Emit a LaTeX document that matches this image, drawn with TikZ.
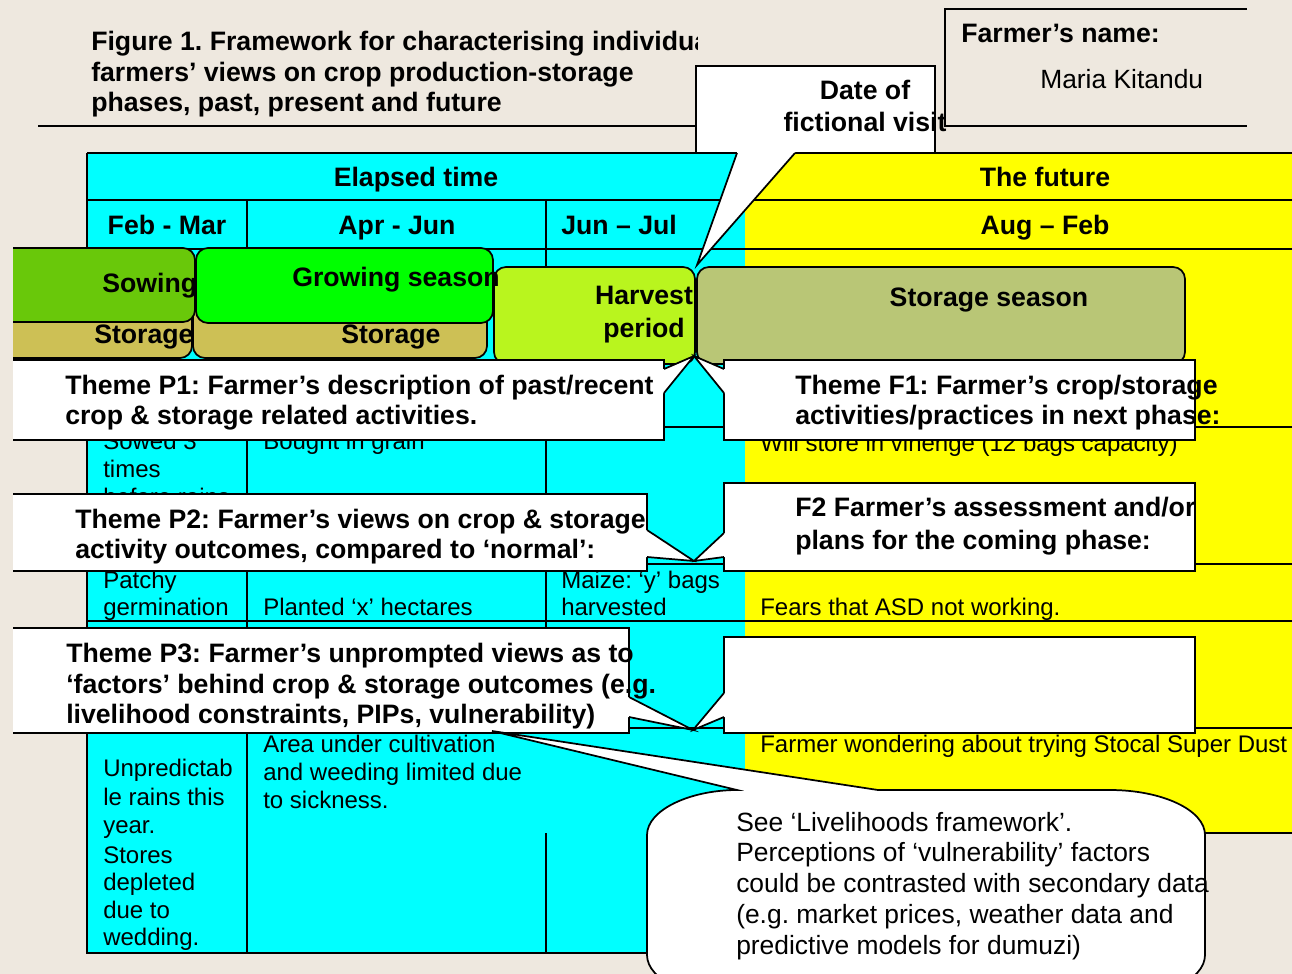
\documentclass[tikz,border=0pt]{standalone}
\usepackage{fontspec}
\setmainfont{Liberation Sans}
\usetikzlibrary{fit}
\frenchspacing
\definecolor{bgc}{RGB}{238,232,223}
\definecolor{cy}{RGB}{0,255,255}
\definecolor{ye}{RGB}{255,255,0}
\definecolor{gr}{RGB}{0,255,0}
\definecolor{sowc}{RGB}{105,200,10}
\definecolor{stoc}{RGB}{205,192,85}
\definecolor{harc}{RGB}{185,245,30}
\definecolor{ssc}{RGB}{185,198,118}
\begin{document}
\begin{tikzpicture}[x=0.75pt,y=-0.75pt,
  bt/.style={font=\fontsize{20}{23}\selectfont\bfseries, inner sep=0pt},
  rt/.style={font=\fontsize{18}{21}\selectfont, inner sep=0pt},
  ct/.style={font=\fontsize{19.8}{23}\selectfont, inner sep=0pt},
  tline/.style={line width=1.2pt},
  bline/.style={line width=1.3pt},
  box/.style={draw=black, line width=1.3pt, fill=white, inner sep=0pt},
  season/.style={draw=black, line width=1.3pt, inner sep=0pt, rounded corners=9pt},
]
\clip (0,0) rectangle (1292,974);
\fill[bgc] (0,0) rectangle (1292,974);

% ---- title
\begin{scope}
  \clip (0,0) rectangle (697,124);
  \node[bt, anchor=base west] (t1) at (91,51) {Figure 1. Framework for characterising individual};
  \node[bt, anchor=base west] (t2) at (91,82) {farmers’ views on crop production-storage};
  \node[bt, anchor=base west] (t3) at (91,112) {phases, past, present and future};
\end{scope}
\coordinate (ulA) at (38,126);
\coordinate (ulB) at (696,126);
\draw[line width=1pt] (ulA) -- (ulB);

% ---- table
\fill[cy] (87,153) rectangle (745,953);
\fill[ye] (745,153) rectangle (1292,833);
\draw[tline] (87,153) -- (1292,153);
\draw[tline] (87,200) -- (1292,200);
\draw[tline] (87,249) -- (1292,249);
\draw[tline] (87,427) -- (1292,427);
\draw[tline] (87,564) -- (1292,564);
\draw[tline] (87,621) -- (1292,621);
\draw[tline] (87,728) -- (1292,728);
\draw[tline] (745,833) -- (1292,833);
\draw[tline] (87,153) -- (87,953) -- (745,953) -- (745,833);
\draw[tline] (247,200) -- (247,953);
\draw[tline] (546,200) -- (546,728);
\draw[tline] (546,833) -- (546,953);

\node[bt, anchor=base] (h1) at (416,186) {Elapsed time};
\node[bt, anchor=base] (h2) at (1045,186) {The future};
\node[bt, anchor=base] (m1) at (167,234) {Feb - Mar};
\node[bt, anchor=base] (m2) at (397,234) {Apr - Jun};
\node[bt, anchor=base west] (m3) at (561,234) {Jun – Jul};
\node[bt, anchor=base] (m4) at (1045,234) {Aug – Feb};

\node[rt, anchor=base west] (c1a) at (103,449) {Sowed 3};
\node[rt, anchor=base west] (c1b) at (103,477) {times};
\node[rt, anchor=base west] (c1c) at (103,505) {before rains};
\node[rt, anchor=base west] (c2a) at (263,449) {Bought in grain};
\node[rt, anchor=base west] (c4a) at (760,451) {Will store in vihenge (12 bags capacity)};
\node[rt, anchor=base west] (r3a) at (103,588) {Patchy};
\node[rt, anchor=base west] (r3b) at (103,615) {germination};
\node[rt, anchor=base west] (r3c) at (263,615) {Planted ‘x’ hectares};
\node[rt, anchor=base west] (r3d) at (561,588) {Maize: ‘y’ bags};
\node[rt, anchor=base west] (r3e) at (561,615) {harvested};
\node[rt, anchor=base west] (r3f) at (760,615) {Fears that ASD not working.};
\node[rt, anchor=base west] (r5a) at (263,752) {Area under cultivation};
\node[rt, anchor=base west] (r5b) at (263,780) {and weeding limited due};
\node[rt, anchor=base west] (r5c) at (263,808) {to sickness.};
\node[rt, anchor=base west] (u1) at (103,776) {Unpredictab};
\node[rt, anchor=base west] (u2) at (103,805) {le rains this};
\node[rt, anchor=base west] (u3) at (103,833) {year.};
\node[rt, anchor=base west] (u4) at (103,863) {Stores};
\node[rt, anchor=base west] (u5) at (103,890) {depleted};
\node[rt, anchor=base west] (u6) at (103,918) {due to};
\node[rt, anchor=base west] (u7) at (103,945) {wedding.};
\node[rt, anchor=base west] (r5f) at (760,752) {Farmer wondering about trying Stocal Super Dust};

% ---- date callout
\node[box, fit={(696,66) (935,153)}] (date) {};
\coordinate (dtip) at (697,265);
\fill[white] (737,150) -- (737,153) -- (dtip) -- (795,153) -- (795,150) -- cycle;
\draw[bline] (737,153) -- (dtip) -- (795,153);
\node[bt, anchor=base] (d1) at (865,99) {Date of};
\node[bt, anchor=base] (d2) at (865,131) {fictional visit};

% ---- farmer's name box
\coordinate (fnA) at (1247,9);
\coordinate (fnB) at (945,9);
\coordinate (fnC) at (945,126);
\coordinate (fnD) at (1247,126);
\draw[line width=1pt] (fnA) -- (fnB) -- (fnC) -- (fnD);
\node[bt, anchor=base west] (fn) at (961,43) {Farmer’s name:};
\node[ct, anchor=base west] (fnm) at (1040,89) {Maria Kitandu};

\begin{scope}
\clip (13,0) rectangle (1292,974);
% ---- season boxes
\node[season, fill=stoc, fit={(-20,300) (192,358)}] (sto1) {};
\node[season, fill=stoc, fit={(193,300) (487,358)}] (sto2) {};
\node[season, fill=sowc, fit={(-20,248) (195,322)}] (sow) {};
\node[season, fill=gr, fit={(196,248) (493,323)}] (grow) {};
\node[season, fill=harc, fit={(494,267) (695,364)}] (harv) {};
\node[season, fill=ssc, fit={(697,267) (1185,364)}] (stos) {};
\node[bt, anchor=base west] (s1) at (102,292) {Sowing};
\node[bt, anchor=base west] (s2) at (292,286) {Growing season};
\node[bt, anchor=base west] (s3) at (94,343) {Storage};
\node[bt, anchor=base west] (s4) at (341,343) {Storage};
\node[bt, anchor=base] (s5) at (644,304) {Harvest};
\node[bt, anchor=base] (s6) at (644,337) {period};
\node[bt, anchor=base] (s7) at (989,306) {Storage season};

% ---- theme boxes
\coordinate (tipA) at (694,356);
\coordinate (tipB) at (694,561);
\coordinate (tipC) at (693,730);

\node[box, fit={(-20,360) (664,440)}] (P1) {};
\fill[white] (661,369) -- (664,369) -- (tipA) -- (664,393) -- (661,393) -- cycle;
\draw[bline] (664,369) -- (tipA) -- (664,393);
\node[box, fit={(724,360) (1195,440)}] (F1) {};
\fill[white] (727,369) -- (724,369) -- (tipA) -- (724,393) -- (727,393) -- cycle;
\draw[bline] (724,369) -- (tipA) -- (724,393);
\node[bt, anchor=base west] (p1a) at (65,394) {Theme P1: Farmer’s description of past/recent};
\node[bt, anchor=base west] (p1b) at (65,424) {crop \& storage related activities.};
\node[bt, anchor=base west] (f1a) at (795,394) {Theme F1: Farmer’s crop/storage};
\node[bt, anchor=base west] (f1b) at (795,424) {activities/practices in next phase:};

\node[box, fit={(-20,494) (647,571)}] (P2) {};
\fill[white] (644,530) -- (647,530) -- (tipB) -- (647,557) -- (644,557) -- cycle;
\draw[bline] (647,530) -- (tipB) -- (647,557);
\node[box, fit={(724,483) (1195,571)}] (F2) {};
\fill[white] (727,533) -- (724,533) -- (tipB) -- (724,557) -- (727,557) -- cycle;
\draw[bline] (724,533) -- (tipB) -- (724,557);
\node[bt, anchor=base west] (p2a) at (75,528) {Theme P2: Farmer’s views on crop \& storage};
\node[bt, anchor=base west] (p2b) at (75,558) {activity outcomes, compared to ‘normal’:};
\node[bt, anchor=base west] (f2a) at (795,516) {F2 Farmer’s assessment and/or};
\node[bt, anchor=base west] (f2b) at (795,549) {plans for the coming phase:};

\node[box, fit={(-20,628) (629,733)}] (P3) {};
\fill[white] (626,697) -- (629,697) -- (tipC) -- (629,717) -- (626,717) -- cycle;
\draw[bline] (629,697) -- (tipC) -- (629,717);
\node[box, fit={(724,637) (1195,733)}] (F3) {};
\fill[white] (727,693) -- (724,693) -- (tipC) -- (724,717) -- (727,717) -- cycle;
\draw[bline] (724,693) -- (tipC) -- (724,717);
\node[bt, anchor=base west] (p3a) at (66,662) {Theme P3: Farmer’s unprompted views as to};
\node[bt, anchor=base west] (p3b) at (66,693) {‘factors’ behind crop \& storage outcomes (e.g.};
\node[bt, anchor=base west] (p3c) at (66,723) {livelihood constraints, PIPs, vulnerability)};
\end{scope}

% ---- livelihoods callout
\coordinate (tipD) at (492,731);
\filldraw[fill=white, draw=black, bline]
  (647,835) .. controls (647,810) and (690,790) .. (737,790)
  -- (tipD) -- (878,790) -- (1110,790)
  .. controls (1162,790) and (1205,810) .. (1205,835)
  -- (1205,955) .. controls (1205,980) and (1162,1000) .. (1110,1000)
  -- (742,1000) .. controls (690,1000) and (647,980) .. (647,955) -- cycle;
\node[ct, anchor=base west] (L1) at (736,831) {See ‘Livelihoods framework’.};
\node[ct, anchor=base west] (L2) at (736,861) {Perceptions of ‘vulnerability’ factors};
\node[ct, anchor=base west] (L3) at (736,892) {could be contrasted with secondary data};
\node[ct, anchor=base west] (L4) at (736,923) {(e.g. market prices, weather data and};
\node[ct, anchor=base west] (L5) at (736,954) {predictive models for dumuzi)};
\end{tikzpicture}
\end{document}
